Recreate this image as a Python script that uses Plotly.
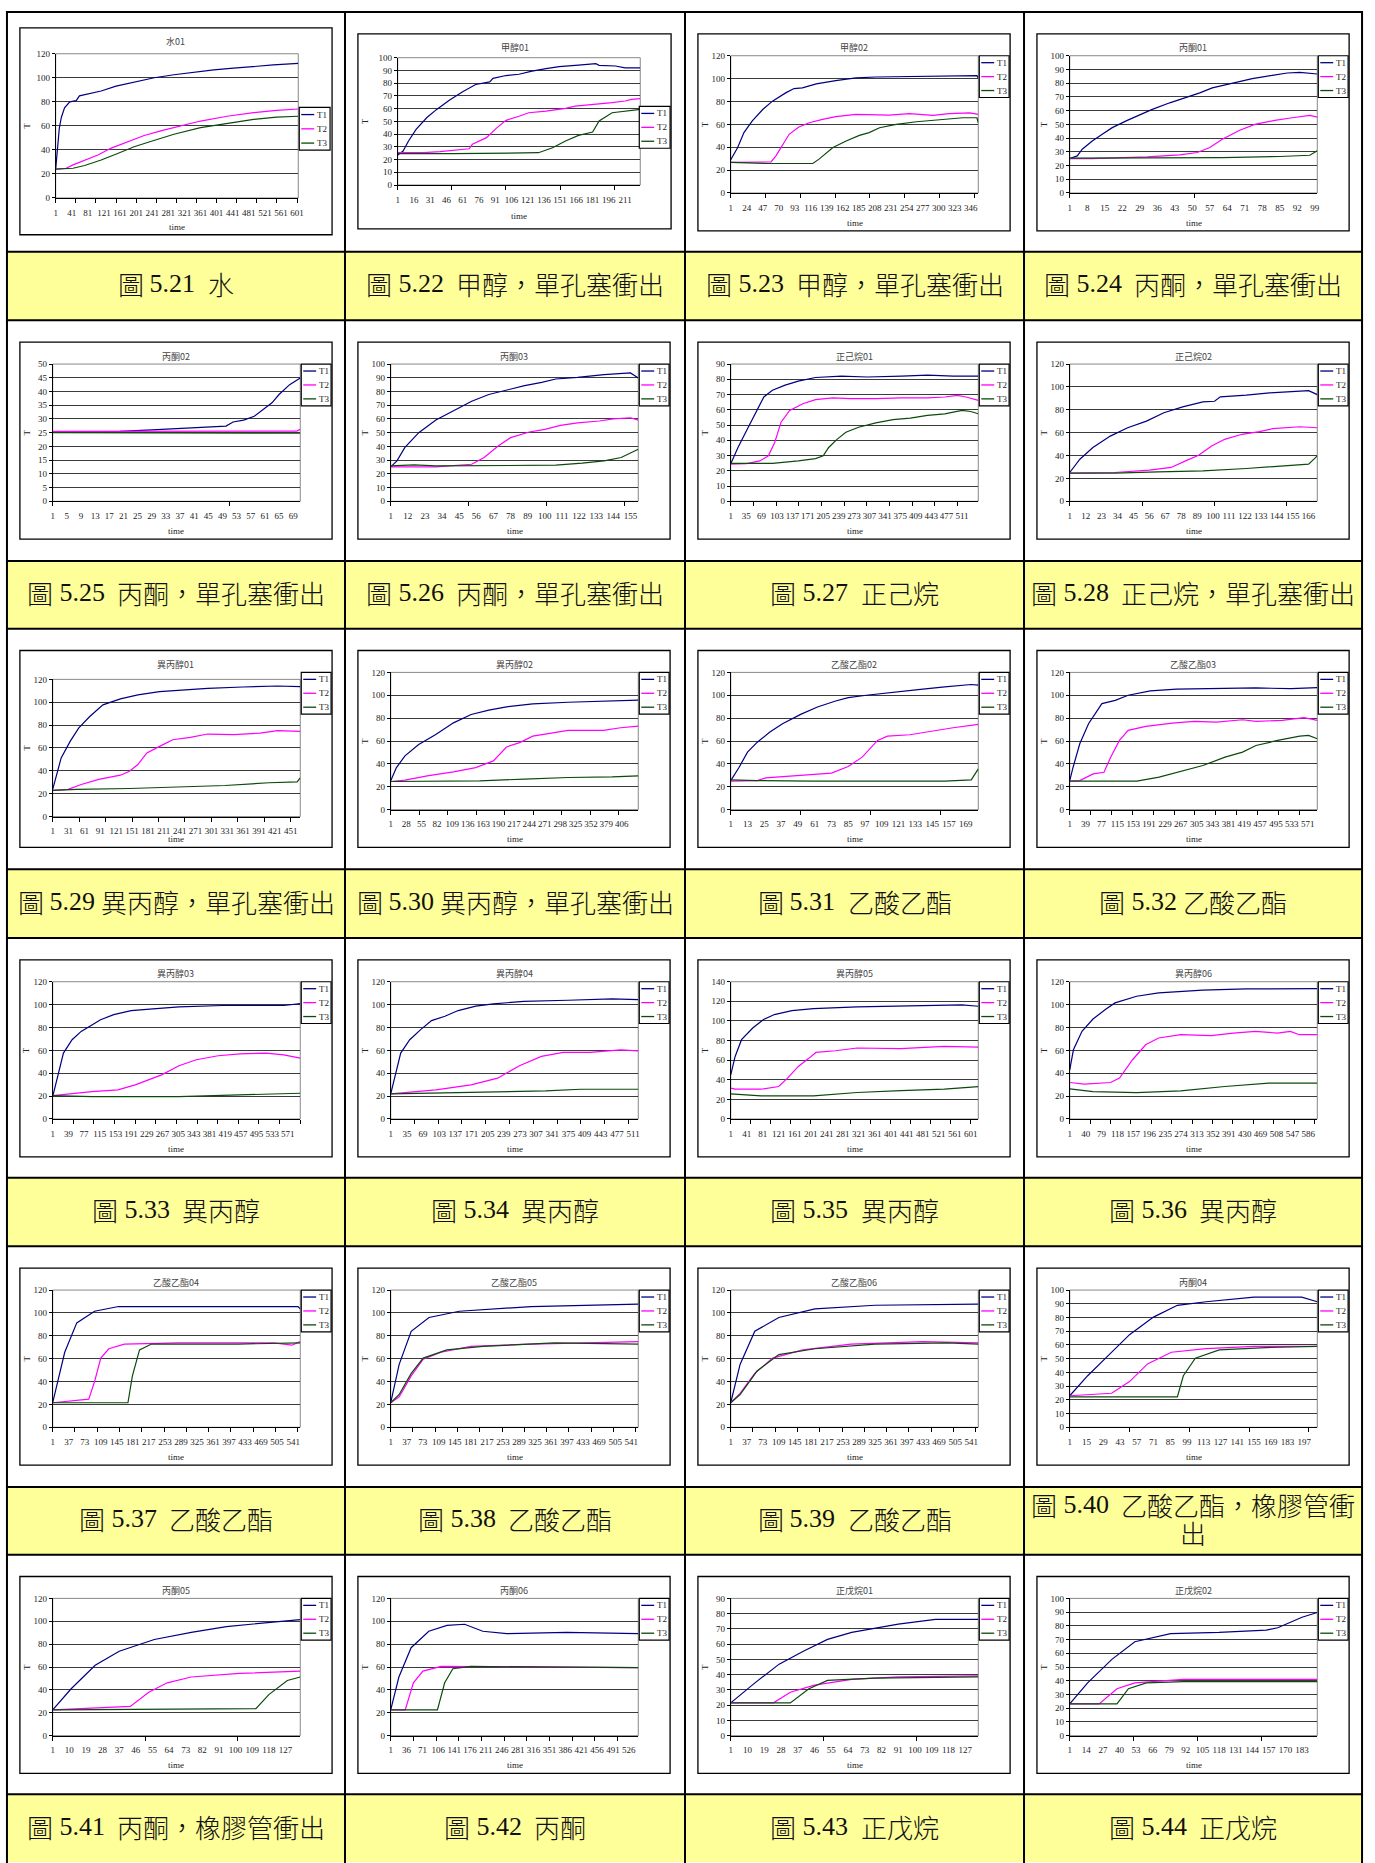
import re
import plotly.graph_objects as go

W, H = 1375, 1863
SERIF = "Liberation Serif, Noto Sans CJK TC, serif"
CJK = "Noto Sans CJK TC, sans-serif"
T_COLORS = ["#000080", "#FF00FF", "#0B4A0B"]
T_NAMES = ["T1", "T2", "T3"]
NB = "\u00a0"

# ---------------- chart metadata (figure 5.21 .. 5.44) ----------------
titles = ["水01", "甲醇01", "甲醇02", "丙酮01",
          "丙酮02", "丙酮03", "正己烷01", "正己烷02",
          "異丙醇01", "異丙醇02", "乙酸乙酯02", "乙酸乙酯03",
          "異丙醇03", "異丙醇04", "異丙醇05", "異丙醇06",
          "乙酸乙酯04", "乙酸乙酯05", "乙酸乙酯06", "丙酮04",
          "丙酮05", "丙酮06", "正戊烷01", "正戊烷02"]

captions = ["圖 5.21  水", "圖 5.22  甲醇，單孔塞衝出", "圖 5.23  甲醇，單孔塞衝出", "圖 5.24  丙酮，單孔塞衝出",
            "圖 5.25  丙酮，單孔塞衝出", "圖 5.26  丙酮，單孔塞衝出", "圖 5.27  正己烷", "圖 5.28  正己烷，單孔塞衝出",
            "圖 5.29 異丙醇，單孔塞衝出", "圖 5.30 異丙醇，單孔塞衝出", "圖 5.31  乙酸乙酯", "圖 5.32 乙酸乙酯",
            "圖 5.33  異丙醇", "圖 5.34  異丙醇", "圖 5.35  異丙醇", "圖 5.36  異丙醇",
            "圖 5.37  乙酸乙酯", "圖 5.38  乙酸乙酯", "圖 5.39  乙酸乙酯", "圖 5.40  乙酸乙酯，橡膠管衝\n出",
            "圖 5.41  丙酮，橡膠管衝出", "圖 5.42  丙酮", "圖 5.43  正戊烷", "圖 5.44  正戊烷"]

# category axis: label every `tick_step` samples up to `tick_last`; `n_points` samples per run
tick_step = [40, 15, 23, 7, 4, 11, 34, 11, 30, 27, 12, 38, 38, 34, 40, 39, 36, 36, 36, 14, 9, 35, 9, 13]
tick_last = [601, 211, 346, 99, 69, 155, 511, 166, 451, 406, 169, 571, 571, 511, 601, 586, 541, 541, 541, 197, 127, 526, 127, 183]
n_points = [604, 225, 357, 100, 71, 160, 547, 172, 469, 435, 178, 594, 601, 522, 620, 608, 557, 557, 557, 208, 135, 547, 134, 195]
y_max = [120, 100, 120, 100, 50, 100, 90, 120, 120, 120, 120, 120, 120, 120, 140, 120, 120, 120, 120, 100, 120, 120, 90, 100]
y_step = [20, 10, 20, 10, 5, 10, 10, 20, 20, 20, 20, 20, 20, 20, 20, 20, 20, 20, 20, 10, 20, 20, 10, 10]

# ---------------- temperature readings: (sample index, T) ----------------
f21_T1 = [(1, 24), (3, 33), (6, 47), (10, 58), (15, 67), (23, 75), (36, 80), (52, 81), (60, 85), (81, 86.5), (114, 89), (151, 93), (196, 96.5), (246, 100), (295, 102.5), (344, 104.7), (394, 106.6), (443, 108), (493, 109.6), (542, 110.7), (604, 112)]
f21_T2 = [(1, 24), (27, 24.7), (44, 27.5), (73, 31.6), (106, 35.7), (139, 41.5), (180, 47), (221, 52), (262, 55.8), (303, 59.3), (361, 64), (427, 68), (493, 71), (550, 72.8), (604, 74)]
f21_T3 = [(1, 24), (44, 24.7), (73, 27), (114, 31.6), (155, 37), (196, 42.6), (237, 47), (295, 53), (361, 58.5), (427, 62), (493, 65.4), (550, 67.3), (604, 68)]

f22_T1 = [(1, 23.6), (6, 26.7), (11, 34.6), (18, 43.7), (28, 53), (37, 59.4), (49, 66.8), (61, 73.3), (73, 79), (86, 81), (89, 83.8), (101, 86), (113, 87), (125, 89.5), (138, 91.4), (150, 93), (168, 94.2), (184, 95.3), (187, 94), (202, 93.5), (211, 92.1), (225, 92.1)]
f22_T2 = [(1, 25.4), (25, 25.4), (40, 26.2), (52, 27.2), (67, 28.5), (70, 32), (83, 37.2), (92, 44.5), (101, 50.8), (113, 54), (122, 56.8), (138, 58.1), (156, 60.2), (165, 62), (187, 63.4), (199, 64.7), (211, 66), (217, 67.3), (225, 67.8)]
f22_T3 = [(1, 24.6), (52, 24.6), (131, 25.4), (136, 26.7), (144, 29.3), (156, 34.6), (168, 39), (181, 41.6), (187, 50.3), (199, 56.8), (214, 58.1), (225, 59.4)]

f23_T1 = [(1, 29), (11, 39.7), (20, 52.8), (32, 63), (47, 73), (61, 80.3), (80, 87.5), (92, 91.3), (104, 91.9), (124, 95.4), (152, 98.3), (181, 100.6), (210, 101.4), (258, 101.7), (306, 102), (355, 102.6), (357, 100.6)]
f23_T2 = [(1, 26.7), (59, 27.2), (66, 32.5), (75, 41), (85, 51.3), (99, 57.7), (114, 61.4), (133, 64.3), (152, 66.7), (181, 68.7), (229, 68.1), (258, 69.3), (292, 67.8), (315, 69.3), (345, 70.1), (357, 68.7)]
f23_T3 = [(1, 26.7), (56, 25.8), (119, 25.8), (128, 29.6), (148, 39.7), (167, 45.5), (186, 50.4), (200, 52.8), (215, 57), (239, 60), (268, 62.3), (306, 64.3), (335, 65.8), (355, 65.8), (357, 61.4)]

f24_T1 = [(1, 25.1), (4, 27), (6, 31.9), (10, 37.9), (14, 42.8), (18, 47.6), (24, 52.9), (29, 57.2), (34, 60.9), (41, 65.7), (48, 69.8), (53, 72.9), (58, 76.6), (66, 79.7), (74, 83.3), (82, 85.7), (88, 87.4), (93, 87.9), (98, 87.4), (100, 86.7)]
f24_T2 = [(1, 25.1), (10, 25.1), (32, 26.3), (45, 27.8), (52, 29.5), (57, 33.1), (62, 39.1), (69, 45.7), (75, 50), (83, 52.9), (90, 54.8), (97, 56.5), (100, 55.3)]
f24_T3 = [(1, 25.4), (62, 25.8), (85, 26.6), (97, 27.5), (100, 30.7)]

f25_T1 = [(1, 25.4), (20, 25.5), (29, 26), (37, 26.5), (44, 27), (50, 27.4), (52, 28.9), (55, 29.6), (58, 31), (60, 32.9), (63, 35.9), (65, 38.9), (68, 42.5), (71, 44.9)]
f25_T2 = [(1, 25.5), (49, 25.5), (70, 25.6), (71, 26.2)]
f25_T3 = [(1, 25), (71, 24.8)]

f26_T1 = [(1, 25.1), (5, 29.5), (10, 39.1), (19, 50), (30, 59.2), (42, 66.4), (53, 72.9), (64, 77.8), (76, 81.4), (87, 84.3), (98, 86.7), (107, 89.1), (121, 90.3), (138, 92.3), (155, 93.5), (160, 89.9)]
f26_T2 = [(1, 25.1), (30, 25.1), (53, 27), (61, 31.9), (70, 40.3), (78, 46.4), (90, 50.5), (100, 52.4), (110, 55.3), (121, 57.2), (135, 58.5), (144, 60.1), (155, 60.9), (160, 59.2)]
f26_T3 = [(1, 25.8), (16, 26.6), (30, 25.8), (107, 26.3), (124, 27.8), (138, 29.5), (149, 31.9), (155, 35.5), (160, 37.9)]

f27_T1 = [(1, 24.7), (17, 35.3), (36, 46.4), (55, 57.4), (74, 68.4), (93, 72.8), (121, 76.2), (150, 78.8), (188, 81.2), (245, 82.1), (302, 81.5), (378, 82.1), (435, 82.8), (492, 82.1), (547, 82.1)]
f27_T2 = [(1, 24.3), (36, 24.7), (65, 26.5), (84, 29.8), (98, 38.6), (112, 51.9), (131, 59.6), (160, 64), (188, 66.7), (226, 67.8), (264, 67.3), (321, 67.3), (378, 67.8), (435, 67.8), (473, 68.4), (501, 69.5), (520, 68.4), (547, 66.2)]
f27_T3 = [(1, 24.9), (93, 24.9), (150, 26.5), (188, 28), (205, 29.8), (217, 35.3), (236, 40.8), (255, 45.3), (283, 48.6), (321, 51.4), (359, 53.6), (397, 54.5), (435, 56.3), (473, 57.4), (511, 59.6), (530, 58.9), (547, 57.4)]

f28_T1 = [(1, 25.2), (8, 36.8), (17, 47), (29, 57), (41, 64.3), (54, 70.1), (66, 77.4), (79, 82.6), (93, 87), (101, 87.5), (105, 91.3), (123, 92.8), (139, 94.8), (154, 96.2), (166, 96.8), (172, 93.3)]
f28_T2 = [(1, 24.6), (32, 25.2), (56, 27.2), (71, 29.6), (81, 35.4), (90, 40.3), (99, 48.4), (108, 54.2), (120, 58.6), (132, 60.9), (141, 63.5), (160, 65.2), (172, 64.3)]
f28_T3 = [(1, 24.6), (32, 24.6), (62, 25.8), (93, 26.7), (123, 28.7), (154, 31.6), (166, 32.5), (172, 39.7)]

f29_T1 = [(1, 23.8), (9, 36.8), (17, 51.3), (34, 65.8), (50, 77.4), (71, 87.5), (96, 97.7), (129, 102.9), (162, 106.4), (203, 109.3), (244, 110.7), (294, 112.2), (360, 113.3), (426, 114.2), (469, 113.6)]
f29_T2 = [(1, 22.9), (30, 23.8), (55, 28.1), (88, 32.5), (129, 36.2), (146, 39.7), (162, 45.5), (179, 55.7), (203, 61.4), (228, 67.2), (261, 69.3), (294, 72.2), (344, 71.6), (393, 73), (426, 75.1), (469, 74.5)]
f29_T3 = [(1, 22.9), (46, 23.8), (146, 24.6), (244, 25.8), (327, 27.2), (410, 29.6), (463, 30.4), (469, 33.9)]

f30_T1 = [(1, 25.2), (11, 36.8), (26, 47), (50, 57), (80, 65.8), (111, 75.9), (142, 83.2), (173, 87), (204, 89.9), (250, 92.5), (312, 93.9), (374, 94.8), (435, 95.7)]
f30_T2 = [(1, 24.6), (26, 25.8), (65, 29.6), (111, 33), (150, 36.8), (181, 42.6), (204, 54.8), (227, 58.6), (250, 64.3), (289, 67.2), (312, 69.3), (374, 69.3), (404, 71.6), (435, 73)]
f30_T3 = [(1, 24.6), (157, 25.2), (235, 26.7), (312, 28.1), (389, 28.7), (435, 29.6)]

f31_T1 = [(1, 25.4), (7, 37.1), (13, 50.3), (20, 59), (29, 67.8), (38, 75.1), (51, 83.3), (63, 89.8), (76, 95), (85, 98), (98, 100), (117, 102.9), (135, 105), (154, 107.3), (173, 109.4), (178, 108.8)]
f31_T2 = [(1, 24.9), (20, 25.4), (26, 27.8), (41, 28.9), (57, 30.4), (73, 31.9), (85, 37.7), (95, 45.9), (106, 60.5), (113, 64.3), (129, 65.5), (145, 68.7), (160, 71.6), (178, 74.6)]
f31_T3 = [(1, 26), (20, 25.4), (60, 24.9), (154, 24.9), (173, 26), (178, 35.7)]

f32_T1 = [(1, 25.4), (9, 37.1), (25, 57.6), (46, 75.1), (78, 92.7), (110, 95.6), (141, 100), (194, 103.8), (257, 105.3), (373, 105.8), (447, 106.4), (531, 105.8), (594, 106.7)]
f32_T2 = [(1, 24.9), (25, 25.4), (57, 31.3), (83, 32.7), (99, 45.9), (120, 60.5), (141, 69.3), (183, 72.8), (247, 75.7), (299, 77.2), (352, 76.6), (415, 78.6), (447, 77.2), (510, 78.1), (562, 80.4), (594, 78.1)]
f32_T3 = [(1, 24.9), (162, 24.9), (215, 28.4), (267, 33.3), (320, 38.6), (373, 45.9), (415, 50.3), (447, 56.1), (499, 60.5), (552, 64.3), (573, 64.9), (594, 62)]

f33_T1 = [(1, 19.6), (12, 35.7), (27, 57.6), (48, 69.3), (70, 76.6), (91, 81), (117, 86.8), (149, 91.2), (191, 94.8), (244, 96.2), (307, 98), (413, 99.2), (518, 99.2), (561, 99.2), (601, 100.9)]
f33_T2 = [(1, 20.5), (96, 24), (159, 25.4), (201, 29.8), (233, 34.2), (265, 38.6), (307, 46.5), (349, 51.8), (402, 55.3), (455, 57), (518, 57.6), (561, 56.1), (601, 53.2)]
f33_T3 = [(1, 20.5), (96, 19.6), (307, 19.6), (413, 20.5), (518, 21.6), (601, 22.5)]

f34_T1 = [(1, 21.9), (8, 34.2), (22, 57.6), (41, 69.3), (64, 78.1), (87, 86), (115, 89.8), (143, 94.8), (180, 98.6), (217, 100.6), (281, 102.9), (374, 103.8), (467, 105), (522, 104.4)]
f34_T2 = [(1, 21.9), (96, 25.4), (170, 29.8), (226, 35.7), (244, 40), (272, 46.5), (318, 54.7), (364, 58.2), (420, 58.2), (485, 60.5), (522, 59.6)]
f34_T3 = [(1, 21.9), (96, 22.5), (235, 23.4), (327, 24.6), (401, 26), (522, 26)]

f35_T1 = [(1, 45), (12, 63.8), (28, 80.9), (56, 92.8), (83, 101.4), (110, 106.5), (154, 110.6), (208, 112.6), (317, 114.3), (426, 115), (579, 116.4), (620, 115)]
f35_T2 = [(1, 31.4), (12, 30.4), (77, 30.4), (121, 33.1), (143, 41.6), (170, 53.6), (197, 62.1), (214, 67.9), (263, 69.6), (317, 72.4), (426, 71.7), (535, 74.1), (620, 73.4)]
f35_T3 = [(1, 25.6), (77, 23.5), (208, 23.5), (317, 27), (426, 29), (535, 30.4), (620, 33.1)]

f36_T1 = [(1, 43), (10, 60.5), (31, 76.6), (58, 87.4), (90, 96.2), (112, 101.5), (165, 107.3), (219, 110.2), (327, 112.6), (434, 113.7), (608, 114)]
f36_T2 = [(1, 31.9), (37, 30.4), (101, 31.9), (123, 35.7), (155, 51.8), (187, 64.9), (219, 70.8), (273, 73.7), (348, 72.8), (402, 75.1), (456, 76.6), (510, 75.1), (542, 76.6), (564, 73.7), (608, 73.7)]
f36_T3 = [(1, 26.3), (58, 24), (165, 23.1), (273, 24.6), (381, 28.4), (489, 31.3), (608, 31.3)]

f37_T1 = [(1, 21.5), (28, 65.6), (55, 91.3), (95, 101.5), (149, 105.6), (283, 105.6), (552, 105.6), (557, 103.6)]
f37_T2 = [(1, 21.5), (82, 24.6), (95, 40), (109, 60.5), (127, 68.7), (162, 72.8), (283, 73.8), (498, 73.8), (538, 71.8), (557, 74.9)]
f37_T3 = [(1, 21.5), (170, 21.5), (180, 45), (196, 67.7), (223, 72.8), (417, 72.8), (557, 73.8)]

f38_T1 = [(1, 21.5), (20, 55), (47, 84), (87, 96), (155, 101.5), (316, 105.6), (557, 107.7)]
f38_T2 = [(1, 21.5), (20, 26.7), (47, 45), (74, 59.5), (114, 65.6), (181, 70.8), (316, 72.8), (557, 74.9)]
f38_T3 = [(1, 21.5), (20, 28.7), (47, 47.2), (74, 60.5), (127, 67.7), (208, 70.8), (369, 73.8), (557, 72.8)]

f39_T1 = [(1, 21.5), (22, 55), (55, 84), (109, 96), (190, 103.6), (325, 106.7), (557, 107.7)]
f39_T2 = [(1, 21.5), (22, 29.7), (55, 47.2), (95, 60.5), (163, 67.7), (271, 72.8), (433, 74.9), (557, 73.8)]
f39_T3 = [(1, 21.5), (22, 28.7), (60, 49.2), (109, 63.6), (190, 68.7), (325, 72.8), (487, 73.8), (557, 72.8)]

f40_T1 = [(1, 23), (16, 37.6), (31, 50.4), (51, 67.5), (71, 80.3), (91, 88.9), (115, 91.5), (155, 94.9), (195, 94.9), (208, 91.5)]
f40_T2 = [(1, 23), (36, 24.8), (51, 33.3), (66, 46.2), (86, 54.7), (115, 57.3), (155, 59), (208, 59)]
f40_T3 = [(1, 22.2), (91, 22.2), (96, 37.6), (106, 50.4), (126, 56.4), (165, 58.1), (208, 59)]

f41_T1 = [(1, 22.6), (11, 41), (24, 61.5), (37, 73.8), (56, 84.1), (76, 90.3), (95, 95.4), (115, 98.5), (135, 101.5)]
f41_T2 = [(1, 22.6), (43, 25.6), (53, 38), (63, 46.2), (76, 51.3), (102, 54.4), (135, 56.4)]
f41_T3 = [(1, 22.6), (111, 23.6), (118, 35.9), (128, 48.2), (135, 51.3)]

f42_T1 = [(1, 22.6), (19, 51.3), (46, 76.9), (85, 91.3), (125, 96.4), (164, 97.4), (204, 91.3), (257, 89.2), (389, 90.3), (547, 89.2)]
f42_T2 = [(1, 22.6), (33, 22.6), (51, 46.2), (72, 56.4), (112, 60.5), (547, 59.5)]
f42_T3 = [(1, 22.6), (104, 22.6), (120, 46.2), (138, 58.5), (178, 60.5), (547, 59.5)]

f43_T1 = [(1, 21.5), (14, 34.6), (27, 46.9), (40, 55.4), (53, 63.1), (66, 67.7), (91, 73.1), (111, 76.2), (134, 76.2)]
f43_T2 = [(1, 21.5), (24, 21.5), (33, 28.5), (46, 33.1), (66, 36.9), (91, 38.5), (134, 39.2)]
f43_T3 = [(1, 21.5), (33, 21.5), (43, 30.8), (53, 36.2), (78, 37.7), (134, 38.5)]

f44_T1 = [(1, 23.1), (15, 38.5), (34, 55.6), (52, 68.4), (80, 74.4), (118, 75.2), (155, 76.9), (164, 78.6), (183, 86.3), (195, 89.7)]
f44_T2 = [(1, 23.1), (24, 23.1), (38, 34.2), (52, 38.5), (90, 41), (195, 41)]
f44_T3 = [(1, 23.1), (38, 23.1), (47, 34.2), (61, 38.5), (90, 39.3), (195, 39.3)]

series = [
    (f21_T1, f21_T2, f21_T3), (f22_T1, f22_T2, f22_T3), (f23_T1, f23_T2, f23_T3), (f24_T1, f24_T2, f24_T3),
    (f25_T1, f25_T2, f25_T3), (f26_T1, f26_T2, f26_T3), (f27_T1, f27_T2, f27_T3), (f28_T1, f28_T2, f28_T3),
    (f29_T1, f29_T2, f29_T3), (f30_T1, f30_T2, f30_T3), (f31_T1, f31_T2, f31_T3), (f32_T1, f32_T2, f32_T3),
    (f33_T1, f33_T2, f33_T3), (f34_T1, f34_T2, f34_T3), (f35_T1, f35_T2, f35_T3), (f36_T1, f36_T2, f36_T3),
    (f37_T1, f37_T2, f37_T3), (f38_T1, f38_T2, f38_T3), (f39_T1, f39_T2, f39_T3), (f40_T1, f40_T2, f40_T3),
    (f41_T1, f41_T2, f41_T3), (f42_T1, f42_T2, f42_T3), (f43_T1, f43_T2, f43_T3), (f44_T1, f44_T2, f44_T3),
]

# ---------------- page geometry (pixels) ----------------
col_left = [5, 345, 687, 1028]
table_right = 1368
row_top = [7, 317, 627, 938, 1248, 1558]
cap_top = [248, 559, 869, 1179, 1490, 1799]
cap_bottom = [317, 627, 938, 1248, 1558, 1867]

# offsets from the cell's top-left corner
BASE = dict(box=(13, 22, 327, 220), plot=(46, 44, 295, 182), legend=(296, 44, 326, 86), title=36, time=212)
OVERRIDES = {
    0: dict(box=(13, 16, 327, 224), plot=(49, 42, 293, 187), legend=(294, 96, 325, 139), title=30, time=216),
    1: dict(box=(13, 22, 328, 218), plot=(53, 46, 297, 174), legend=(296, 95, 327, 137), title=36, time=205),
    8: dict(plot=(46, 51, 295, 189)),
}

CAP_SIZE = 26
CAP_SHIFT = -2


def fx(x):
    return x / W


def fy(y):
    return 1 - y / H


def split_caption(line):
    """Split a caption line into CJK runs and Latin (number/space) runs."""
    parts = re.findall(r"[0-9. ]+|[^0-9. ]+", line)
    return [(p, bool(re.fullmatch(r"[0-9. ]+", p))) for p in parts]


def run_width(text, latin):
    if not latin:
        return CAP_SIZE * len(text)
    return sum(CAP_SIZE * (0.5 if ch.isdigit() else 0.25) for ch in text)


fig = go.Figure()
shapes = []
annotations = []
layout_axes = {}

# caption bands and table rules
for r in range(6):
    shapes.append(dict(type="rect", xref="paper", yref="paper", layer="below",
                       x0=fx(col_left[0]), x1=fx(table_right), y0=fy(cap_top[r]), y1=fy(cap_bottom[r]),
                       fillcolor="#FFFF99", line=dict(width=0)))
for yline in [row_top[0]] + cap_top + cap_bottom[:-1]:
    shapes.append(dict(type="line", xref="paper", yref="paper", x0=fx(col_left[0] - 1), x1=fx(table_right + 1),
                       y0=fy(yline), y1=fy(yline), line=dict(color="black", width=2)))
for xline in col_left + [table_right]:
    shapes.append(dict(type="line", xref="paper", yref="paper", x0=fx(xline), x1=fx(xline),
                       y0=fy(row_top[0] - 1), y1=fy(H + 5), line=dict(color="black", width=2)))

for k in range(24):
    r, c = divmod(k, 4)
    L, T = col_left[c], row_top[r]
    g = dict(BASE)
    g.update(OVERRIDES.get(k, {}))
    bx0, by0, bx1, by1 = g["box"]
    px0, py0, px1, py1 = g["plot"]
    lx0, ly0, lx1, ly1 = g["legend"]
    i = k + 1
    xa = "xaxis" if i == 1 else f"xaxis{i}"
    ya = "yaxis" if i == 1 else f"yaxis{i}"
    xr = "x" if i == 1 else f"x{i}"
    yr = "y" if i == 1 else f"y{i}"

    ticks = list(range(1, tick_last[k] + 1, tick_step[k]))
    layout_axes[xa] = dict(
        domain=[fx(L + px0), fx(L + px1)], anchor=yr, range=[1, n_points[k]],
        tickmode="array", tickvals=ticks, ticktext=[str(t) for t in ticks], tickangle=0,
        ticks="", showgrid=False, zeroline=False, showline=True, linecolor="black", linewidth=1,
        tickfont=dict(family=SERIF, size=9, color="#222"), ticklabelstandoff=6,
        minor=dict(ticks="outside", tick0=1, dtick=50, ticklen=4, tickcolor="black", showgrid=False),
        fixedrange=True,
    )
    layout_axes[ya] = dict(
        domain=[fy(T + py1), fy(T + py0)], anchor=xr, range=[0, y_max[k]],
        tickmode="linear", tick0=0, dtick=y_step[k],
        ticks="outside", ticklen=3, tickcolor="black",
        showgrid=True, gridcolor="#3a3a3a", gridwidth=1, zeroline=False,
        showline=True, linecolor="black", linewidth=1,
        tickfont=dict(family=SERIF, size=9, color="#222"), fixedrange=True,
    )

    for s in range(3):
        pts = series[k][s]
        fig.add_trace(go.Scatter(
            x=[p[0] for p in pts], y=[p[1] for p in pts], mode="lines",
            line=dict(color=T_COLORS[s], width=1.2), name=T_NAMES[s],
            xaxis=xr, yaxis=yr, showlegend=False, hoverinfo="skip"))

    # chart frame and plot-area border
    shapes.append(dict(type="rect", xref="paper", yref="paper", layer="below",
                       x0=fx(L + bx0), x1=fx(L + bx1), y0=fy(T + by1), y1=fy(T + by0),
                       line=dict(color="black", width=1.3), fillcolor="white"))
    shapes.append(dict(type="rect", xref="paper", yref="paper", layer="below",
                       x0=fx(L + px0), x1=fx(L + px1), y0=fy(T + py1), y1=fy(T + py0),
                       line=dict(color="#888", width=1)))

    # series key
    shapes.append(dict(type="rect", xref="paper", yref="paper",
                       x0=fx(L + lx0), x1=fx(L + lx1), y0=fy(T + ly1), y1=fy(T + ly0),
                       line=dict(color="black", width=1.2), fillcolor="white"))
    lh = ly1 - ly0
    for s in range(3):
        yy = T + ly0 + lh * (2 * s + 1) / 6
        shapes.append(dict(type="line", xref="paper", yref="paper",
                           x0=fx(L + lx0 + 2), x1=fx(L + lx0 + 15), y0=fy(yy), y1=fy(yy),
                           line=dict(color=T_COLORS[s], width=1.3)))
        annotations.append(dict(xref="paper", yref="paper", x=fx(L + lx0 + 15.5), y=fy(yy),
                                xanchor="left", yanchor="middle", showarrow=False, text=T_NAMES[s],
                                font=dict(family=SERIF, size=9, color="#222")))

    # chart title, axis titles
    annotations.append(dict(xref="paper", yref="paper", x=fx(L + (bx0 + bx1) / 2), y=fy(T + g["title"]),
                            xanchor="center", yanchor="middle", showarrow=False, text=titles[k],
                            font=dict(family=CJK, size=9, color="#444")))
    annotations.append(dict(xref="paper", yref="paper", x=fx(L + (px0 + px1) / 2), y=fy(T + g["time"]),
                            xanchor="center", yanchor="middle", showarrow=False, text="time",
                            font=dict(family=SERIF, size=9, color="#222")))
    annotations.append(dict(xref="paper", yref="paper", x=fx(L + 20), y=fy(T + (py0 + py1) / 2),
                            xanchor="center", yanchor="middle", showarrow=False, text="T", textangle=-90,
                            font=dict(family=SERIF, size=9, color="#222")))

    # caption below the chart: CJK runs in a light CJK face, figure numbers in serif
    cx = (col_left[c] + (col_left[c + 1] if c < 3 else table_right)) / 2
    cy = (cap_top[r] + cap_bottom[r]) / 2 + CAP_SHIFT
    lines = captions[k].split("\n")
    for j, line in enumerate(lines):
        off = (j - (len(lines) - 1) / 2) * 28
        runs = split_caption(line)
        total = sum(run_width(t, lat) for t, lat in runs)
        xpos = cx - total / 2
        for text, latin in runs:
            wdt = run_width(text, latin)
            shown = text.replace(" ", NB)
            if latin:
                font = dict(family="Liberation Serif, serif", size=CAP_SIZE, color="#111")
            else:
                font = dict(family=CJK, size=CAP_SIZE, color="#111", weight=300)
            annotations.append(dict(xref="paper", yref="paper", x=fx(xpos + wdt / 2), y=fy(cy + off),
                                    xanchor="center", yanchor="middle", showarrow=False,
                                    borderpad=0, borderwidth=0, text=shown, font=font))
            xpos += wdt

fig.update_layout(
    width=W, height=H, margin=dict(l=0, r=0, t=0, b=0),
    paper_bgcolor="white", plot_bgcolor="rgba(0,0,0,0)",
    showlegend=False, shapes=shapes, annotations=annotations, **layout_axes,
)

fig.write_html("out.html")
